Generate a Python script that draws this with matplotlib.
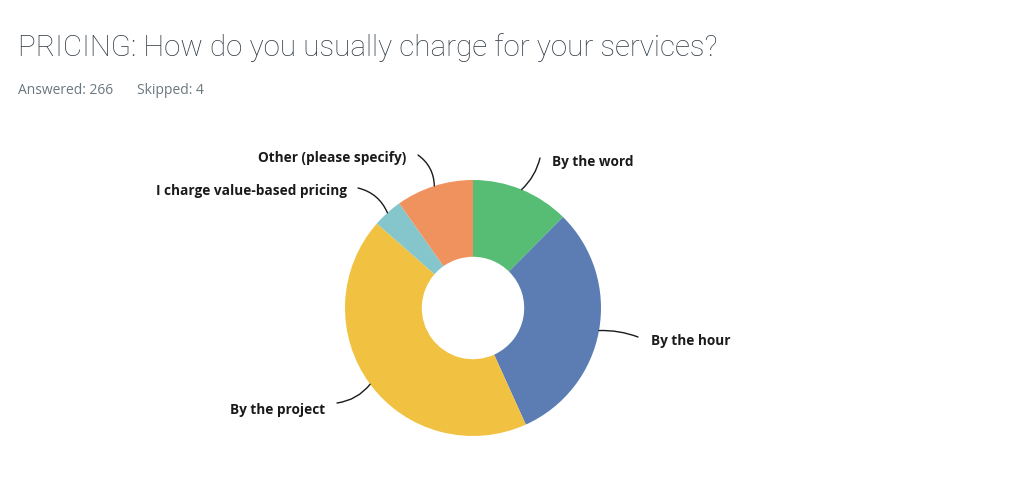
import numpy as np
import matplotlib.pyplot as plt

labels = ["By the word", "By the hour", "By the project",
          "I charge value-based pricing", "Other (please specify)"]
counts = [33, 82, 115, 10, 26]
colors = ["#57bd74", "#5b7db4", "#f1c242", "#84c6cb", "#f0925e"]

plt.rcParams['font.family'] = ['Open Sans', 'DejaVu Sans']

W, H = 1024, 491
fig = plt.figure(figsize=(W / 100, H / 100), dpi=100)

# donut center (473, 308) px, radius 128 px
cx, cy, R = 473, 308, 128
ax = fig.add_axes([(cx - R) / W, (H - cy - R) / H, 2 * R / W, 2 * R / H])
wedges, _ = ax.pie(counts, colors=colors, startangle=90, counterclock=False,
                   radius=1, wedgeprops=dict(width=0.6, linewidth=0))
ax.set_xlim(-1, 1)
ax.set_ylim(-1, 1)
ax.axis('off')

def px(x, y):
    return ((x - cx) / R, (cy - y) / R)

# label placement (px), alignment, line end, curve
place = [
    ((552, 162), 'left', (540, 158), -0.15),
    ((651, 341), 'left', (638, 337), 0.1),
    ((325, 410), 'right', (337, 403), 0.2),
    ((347, 191), 'right', (358, 188), -0.25),
    ((406, 158), 'right', (418, 155), -0.25),
]

for w, lab, (tpos, ha, lpos, rad) in zip(wedges, labels, place):
    ang = np.deg2rad((w.theta1 + w.theta2) / 2)
    xy = (np.cos(ang), np.sin(ang))
    ax.annotate("", xy=xy, xytext=px(*lpos), annotation_clip=False,
                arrowprops=dict(arrowstyle='-', color='#1a1a1a', lw=1,
                                shrinkA=0, shrinkB=0,
                                connectionstyle=f"arc3,rad={rad}"))
    ax.text(*px(*tpos), lab, ha=ha, va='center', fontsize=9.8,
            fontweight='bold', color='#1a1a1a', clip_on=False)

fig.text(18 / W, 1 - 48 / H, "PRICING: How do you usually charge for your services?",
         fontsize=21.3, fontweight='light', color='#333e48', va='center',
         family=['Roboto', 'DejaVu Sans'])
fig.text(18 / W, 1 - 91 / H, "Answered: 266", fontsize=10, color='#6b787f', va='center')
fig.text(137 / W, 1 - 91 / H, "Skipped: 4", fontsize=10, color='#6b787f', va='center')

fig.savefig("out.png", dpi=100, facecolor='white')
